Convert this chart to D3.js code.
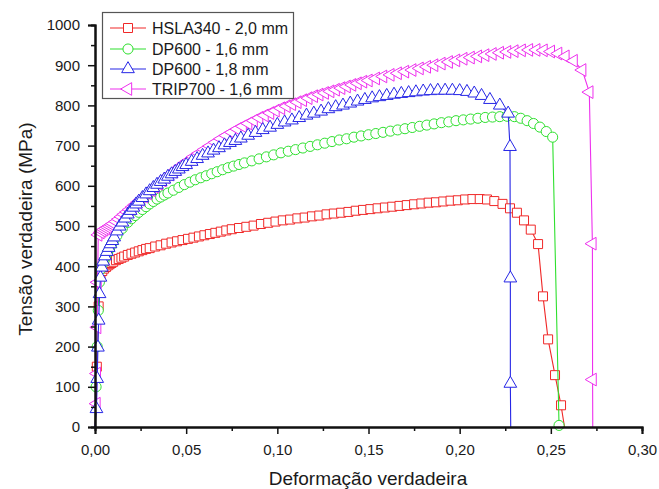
<!DOCTYPE html>
<html>
<head>
<meta charset="utf-8">
<script src="https://cdn.jsdelivr.net/npm/d3@7"></script>
<style>
  html, body { margin: 0; padding: 0; background: #fff; }
  svg { display: block; font-family: "Liberation Sans", Arial, sans-serif; }
</style>
</head>
<body>
<svg id="chart" width="659" height="489"></svg>
<script>
// True stress-strain curves, [true strain, true stress (MPa)]
const hsla340 = [
  [0,0],[0.001,150],[0.002,300],[0.003,372],[0.004,388],[0.005,394],[0.006,398],[0.007,402],
  [0.008,405],[0.009,408],[0.010,411],[0.0115,415],[0.013,418],[0.0145,421],[0.016,424],
  [0.018,428],[0.020,431],[0.022,434],[0.024,437],[0.026,440],[0.028,443],[0.030,445],
  [0.033,449],[0.036,452],[0.039,456],[0.042,459],[0.045,462],[0.048,465],[0.051,468],
  [0.054,471],[0.057,474],[0.060,477],[0.063,480],[0.066,483],[0.069,486],[0.072,489],
  [0.075,492],[0.079,495],[0.083,498],[0.087,501],[0.091,505],[0.095,508],[0.099,511],
  [0.103,514],[0.107,516],[0.111,519],[0.115,521],[0.119,524],[0.123,526],[0.127,529],
  [0.131,531],[0.135,533],[0.139,535],[0.143,538],[0.147,540],[0.151,542],[0.155,544],
  [0.159,546],[0.163,548],[0.167,550],[0.171,552],[0.175,554],[0.179,556],[0.183,558],
  [0.187,559],[0.191,561],[0.195,563],[0.199,564],[0.203,566],[0.207,567],[0.211,567],
  [0.215,566],[0.219,562],[0.2235,555],[0.2276,544],[0.2314,533],[0.2353,514],[0.239,491],
  [0.243,455],[0.2457,325],[0.2485,218],[0.2523,129],[0.2556,54],[0.2575,0]
];
const dp600_16 = [
  [0,0],[0.0006,100],[0.0012,200],[0.0018,290],[0.0024,360],[0.003,392],[0.004,405],
  [0.005,415],[0.006,425],[0.007,435],[0.008,444],[0.009,453],[0.010,461],[0.012,476],
  [0.015,494],[0.018,509],[0.020,518],[0.022,526],[0.024,534],[0.026,541],[0.028,548],
  [0.030,555],[0.032,561],[0.034,567],[0.036,572],[0.038,577],[0.040,582],[0.043,589],
  [0.046,596],[0.049,603],[0.052,609],[0.055,615],[0.058,620],[0.061,625],[0.064,630],
  [0.067,635],[0.070,640],[0.073,645],[0.076,649],[0.079,653],[0.082,657],[0.086,662],
  [0.090,667],[0.094,672],[0.098,677],[0.102,682],[0.106,686],[0.110,690],[0.114,694],
  [0.118,698],[0.122,702],[0.126,706],[0.130,710],[0.134,714],[0.138,717],[0.142,721],
  [0.146,724],[0.150,727],[0.154,730],[0.158,733],[0.162,736],[0.166,739],[0.170,742],
  [0.174,745],[0.178,748],[0.182,751],[0.186,754],[0.190,757],[0.194,759],[0.198,762],
  [0.202,764],[0.206,766],[0.210,768],[0.214,770],[0.218,771],[0.222,772],[0.226,773],
  [0.230,772],[0.2335,768],[0.237,762],[0.2405,755],[0.244,746],[0.2475,735],[0.251,721],
  [0.2545,4],[0.2548,0]
];
const dp600_18 = [
  [0,0],[0.0008,45],[0.0012,120],[0.0016,198],[0.002,265],[0.0025,331],[0.003,372],
  [0.0037,397],[0.0045,412],[0.0055,425],[0.0065,436],[0.0075,446],[0.0085,455],
  [0.0095,463],[0.0105,472],[0.012,487],[0.0135,499],[0.015,509],[0.0165,519],[0.018,529],
  [0.0195,538],[0.021,546],[0.0225,554],[0.024,561],[0.026,570],[0.028,579],[0.030,587],
  [0.032,595],[0.034,603],[0.036,610],[0.038,616],[0.040,623],[0.042,629],[0.044,635],
  [0.046,641],[0.048,647],[0.050,652],[0.053,660],[0.056,667],[0.059,675],[0.062,681],
  [0.065,688],[0.068,694],[0.071,701],[0.074,707],[0.077,712],[0.080,718],[0.084,725],
  [0.088,732],[0.092,739],[0.096,745],[0.100,752],[0.104,758],[0.108,763],[0.112,769],
  [0.116,775],[0.120,780],[0.124,785],[0.128,791],[0.132,796],[0.136,800],[0.140,805],
  [0.144,810],[0.148,814],[0.152,818],[0.156,821],[0.160,824],[0.164,827],[0.168,829],
  [0.172,831],[0.176,833],[0.180,835],[0.184,836],[0.188,837],[0.192,837],[0.196,837],
  [0.200,836],[0.204,834],[0.208,830],[0.212,824],[0.2166,814],[0.222,800],[0.2266,780],
  [0.2276,697],[0.2278,370],[0.2278,108],[0.228,0]
];
const trip700 = [
  [0,0],[0.0008,58],[0.001,133],[0.0012,248],[0.0014,360],[0.0018,478],[0.003,484],
  [0.004,488],[0.005,491],[0.006,494],[0.007,497],[0.008,500],[0.009,503],[0.010,506],
  [0.0115,511],[0.013,517],[0.0145,523],[0.016,529],[0.0175,535],[0.019,541],[0.0205,547],
  [0.022,553],[0.0235,559],[0.025,565],[0.027,573],[0.029,581],[0.031,589],[0.033,597],
  [0.035,605],[0.037,613],[0.039,621],[0.041,628],[0.043,635],[0.045,642],[0.047,649],
  [0.049,656],[0.051,662],[0.054,672],[0.057,681],[0.060,690],[0.063,699],[0.066,708],
  [0.069,717],[0.072,725],[0.075,733],[0.078,741],[0.081,748],[0.084,755],[0.087,762],
  [0.090,769],[0.093,775],[0.096,781],[0.099,787],[0.102,793],[0.105,798],[0.108,803],
  [0.111,808],[0.114,813],[0.117,818],[0.120,823],[0.123,827],[0.126,831],[0.129,835],
  [0.132,839],[0.135,843],[0.138,847],[0.141,851],[0.144,855],[0.147,859],[0.150,862],
  [0.154,867],[0.158,872],[0.162,876],[0.166,880],[0.170,884],[0.174,888],[0.178,892],
  [0.182,896],[0.186,900],[0.190,904],[0.194,908],[0.198,912],[0.202,916],[0.206,919],
  [0.210,922],[0.214,925],[0.218,928],[0.222,931],[0.226,933],[0.230,935],[0.234,937],
  [0.238,938],[0.242,938],[0.246,937],[0.250,934],[0.254,929],[0.258,922],[0.2625,911],
  [0.2672,888],[0.2711,833],[0.2728,456],[0.2729,118],[0.273,0]
];

const seriesLabels = ["HSLA340 - 2,0 mm", "DP600 - 1,6 mm", "DP600 - 1,8 mm", "TRIP700 - 1,6 mm"];
const seriesColors = ["#f02828", "#2ee02e", "#2626e6", "#ee30ee"];
const seriesSymbols = ["square", "circle", "triangleUp", "triangleLeft"];
const xTicks = [0, 0.05, 0.10, 0.15, 0.20, 0.25, 0.30];
const yTicks = [0, 100, 200, 300, 400, 500, 600, 700, 800, 900, 1000];
const xTitle = "Deformação verdadeira";
const yTitle = "Tensão verdadeira (MPa)";

const seriesData = [hsla340, dp600_16, dp600_18, trip700];
// drawing order: later ones sit on top
const drawOrder = [0, 1, 3, 2];

const svg = d3.select("#chart");
const margin = { left: 95, right: 17, top: 25, bottom: 62 };
const W = 659, H = 489;

const x = d3.scaleLinear().domain([0, 0.30]).range([margin.left, W - margin.right]);
const y = d3.scaleLinear().domain([0, 1000]).range([H - margin.bottom, margin.top]);

const locale = d3.formatLocale({ decimal: ",", thousands: ".", grouping: [3], currency: ["", ""] });
const fmtX = locale.format(".2f");
const fmtY = locale.format("d");

function symbolPath(kind) {
  if (kind === "square") return d3.symbol(d3.symbolSquare, 81)();
  if (kind === "circle") return d3.symbol(d3.symbolCircle, 80)();
  return d3.symbol(d3.symbolTriangle, 70)();
}
function symbolRotation(kind) {
  return kind === "triangleLeft" ? -90 : 0;
}

// curves
const plot = svg.append("g");
const line = d3.line().x(d => x(d[0])).y(d => y(d[1]));
drawOrder.forEach(i => {
  const g = plot.append("g");
  g.append("path")
    .datum(seriesData[i])
    .attr("fill", "none")
    .attr("stroke", seriesColors[i])
    .attr("stroke-width", 1.1)
    .attr("d", line);
  g.selectAll("path.mk")
    .data(seriesData[i].filter(d => d[1] > 0))
    .join("path")
    .attr("class", "mk")
    .attr("d", symbolPath(seriesSymbols[i]))
    .attr("transform", d => `translate(${x(d[0])},${y(d[1])}) rotate(${symbolRotation(seriesSymbols[i])})`)
    .attr("fill", "#fff")
    .attr("stroke", seriesColors[i])
    .attr("stroke-width", 1);
});

// axes
const axisFont = 15;
const xAxis = d3.axisBottom(x).tickValues(xTicks).tickFormat(fmtX).tickSize(7).tickPadding(10);
const xMinor = d3.axisBottom(x).tickValues(d3.range(0.025, 0.3, 0.05)).tickFormat("").tickSize(4);
const yAxis = d3.axisLeft(y).tickValues(yTicks).tickFormat(fmtY).tickSize(7).tickPadding(8);
const yMinor = d3.axisLeft(y).tickValues(d3.range(50, 1000, 100)).tickFormat("").tickSize(4);

function styleAxis(g) {
  g.select(".domain").attr("stroke", "#111").attr("stroke-width", 2);
  g.selectAll(".tick line").attr("stroke", "#111").attr("stroke-width", 1.5);
  g.selectAll(".tick text").attr("fill", "#1a1a1a").style("font-size", axisFont + "px")
    .style("font-family", "'Liberation Sans', Arial, sans-serif");
}

svg.append("g").attr("transform", `translate(0,${H - margin.bottom})`).call(xMinor).call(styleAxis);
svg.append("g").attr("transform", `translate(0,${H - margin.bottom})`).call(xAxis).call(styleAxis);
svg.append("g").attr("transform", `translate(${margin.left},0)`).call(yMinor).call(styleAxis);
svg.append("g").attr("transform", `translate(${margin.left},0)`).call(yAxis).call(styleAxis);

// axis titles
svg.append("text")
  .attr("x", 368).attr("y", 485)
  .attr("text-anchor", "middle")
  .attr("fill", "#1a1a1a")
  .style("font-size", "19px")
  .text(xTitle);
svg.append("text")
  .attr("transform", "translate(32,229) rotate(-90)")
  .attr("text-anchor", "middle")
  .attr("fill", "#1a1a1a")
  .style("font-size", "19px")
  .text(yTitle);

// legend
const legend = svg.append("g");
legend.append("rect")
  .attr("x", 102.5).attr("y", 12.5).attr("width", 191).attr("height", 86)
  .attr("fill", "#fff").attr("stroke", "#555").attr("stroke-width", 1.2);
const rowY = [28, 49, 69, 89];
seriesLabels.forEach((label, i) => {
  const row = legend.append("g").attr("transform", `translate(0,${rowY[i]})`);
  row.append("line").attr("x1", 110).attr("x2", 146).attr("y1", 0).attr("y2", 0)
    .attr("stroke", seriesColors[i]).attr("stroke-width", 1.1);
  row.append("path")
    .attr("d", symbolPath(seriesSymbols[i]))
    .attr("transform", `translate(128,0) rotate(${symbolRotation(seriesSymbols[i])})`)
    .attr("fill", "#fff").attr("stroke", seriesColors[i]).attr("stroke-width", 1);
  row.append("text").attr("x", 152).attr("y", 5.5)
    .attr("fill", "#1a1a1a").style("font-size", "16px").text(label);
});
</script>
</body>
</html>
